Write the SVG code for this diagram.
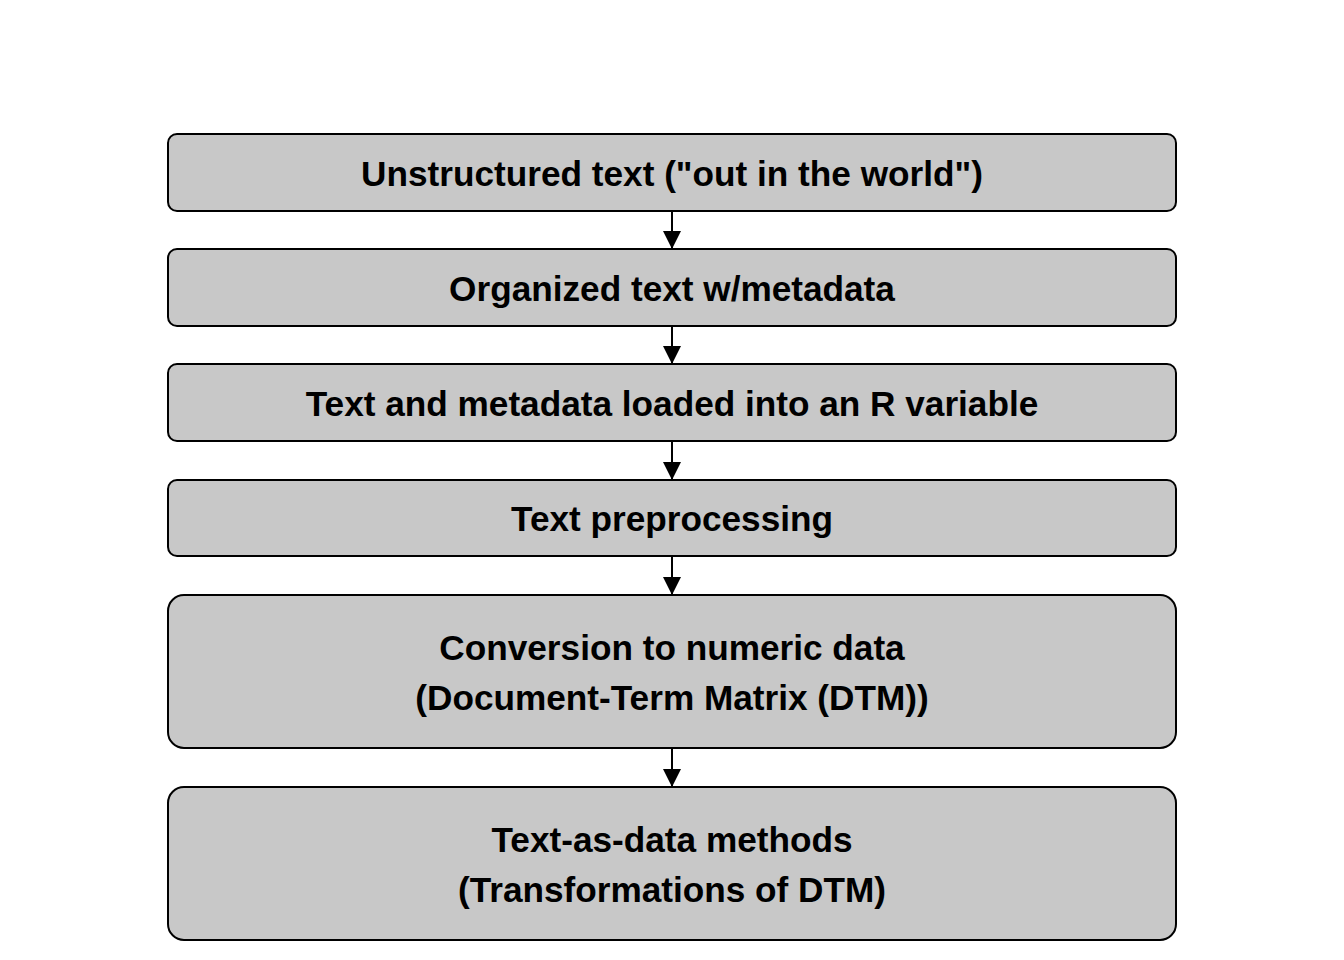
<svg xmlns="http://www.w3.org/2000/svg" width="1344" height="960" viewBox="0 0 1344 960">
  <style>
    .box { fill: #c8c8c8; stroke: #000; stroke-width: 2; }
    .lbl { font-family: "Liberation Sans", Arial, sans-serif; font-weight: bold; font-size: 35.2px; fill: #000; text-anchor: middle; }
    .edge { stroke: #000; stroke-width: 2; fill: none; marker-end: url(#head); }
  </style>
  <defs>
    <marker id="head" viewBox="0 0 18 18" refX="18" refY="9" markerWidth="18" markerHeight="18" markerUnits="userSpaceOnUse" orient="auto">
      <path d="M0,0 L18,9 L0,18 Z" fill="#000"/>
    </marker>
  </defs>
  <rect width="1344" height="960" fill="#fff"/>

  <g id="connectors">
    <line class="edge" x1="672" y1="211" x2="672" y2="249"/>
    <line class="edge" x1="672" y1="326" x2="672" y2="364"/>
    <line class="edge" x1="672" y1="441" x2="672" y2="480"/>
    <line class="edge" x1="672" y1="556" x2="672" y2="595"/>
    <line class="edge" x1="672" y1="748" x2="672" y2="787"/>
  </g>

  <g id="unstructured">
    <rect class="box" x="168" y="134" width="1008" height="77" rx="9"/>
    <text class="lbl" x="672" y="186">Unstructured text ("out in the world")</text>
  </g>
  <g id="organized">
    <rect class="box" x="168" y="249" width="1008" height="77" rx="9"/>
    <text class="lbl" x="672" y="301">Organized text w/metadata</text>
  </g>
  <g id="loaded">
    <rect class="box" x="168" y="364" width="1008" height="77" rx="9"/>
    <text class="lbl" x="672" y="416">Text and metadata loaded into an R variable</text>
  </g>
  <g id="preprocessing">
    <rect class="box" x="168" y="480" width="1008" height="76" rx="9"/>
    <text class="lbl" x="672" y="531">Text preprocessing</text>
  </g>
  <g id="conversion">
    <rect class="box" x="168" y="595" width="1008" height="153" rx="16"/>
    <text class="lbl" x="672" y="660">Conversion to numeric data</text>
    <text class="lbl" x="672" y="710">(Document-Term Matrix (DTM))</text>
  </g>
  <g id="methods">
    <rect class="box" x="168" y="787" width="1008" height="153" rx="16"/>
    <text class="lbl" x="672" y="852">Text-as-data methods</text>
    <text class="lbl" x="672" y="902">(Transformations of DTM)</text>
  </g>
</svg>
